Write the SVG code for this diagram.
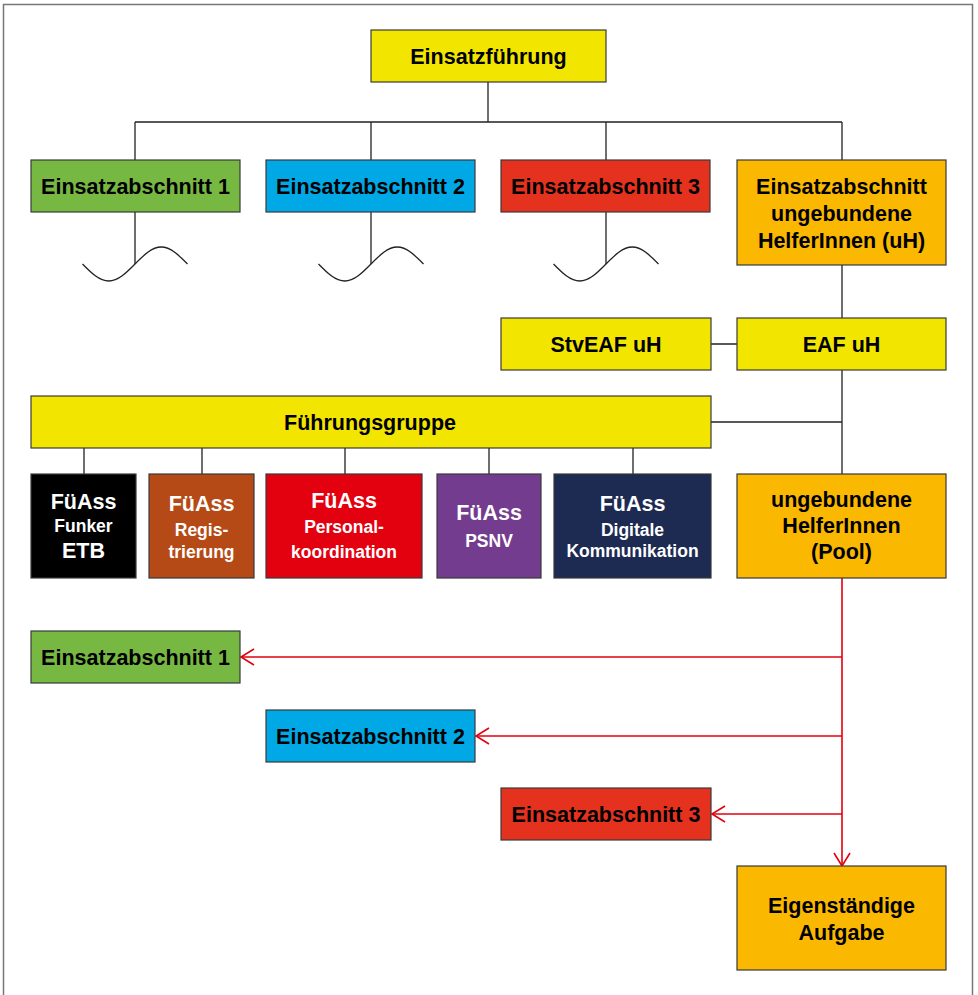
<svg xmlns="http://www.w3.org/2000/svg" width="978" height="995" viewBox="0 0 978 995">
<style>
.box{stroke:#3a3a3a;stroke-width:1.2}
.y{fill:#f2e600}.g{fill:#77b843}.c{fill:#00a8e6}.r{fill:#e4321f}.o{fill:#fab800}
.t{font-family:"Liberation Sans",Arial,sans-serif;font-weight:bold;font-size:21.5px;text-anchor:middle;fill:#000}
.w{fill:#fff}
.s{font-size:17.5px}
.b{font-size:21.5px}
.ln{stroke:#222;stroke-width:1.3;fill:none}
.rl{stroke:#e3000f;stroke-width:1.6;fill:none}
</style>
<defs>
<path id="wave" d="M-52.5,0 C-43.94,8.71 -35.7,17 -26.25,17 C-16.8,17 -8.56,8.71 0,0 C8.56,-8.71 16.8,-17 26.25,-17 C35.7,-17 43.94,-8.71 52.5,0" fill="none" stroke="#222" stroke-width="1.3"/>
<marker id="ah" markerWidth="16" markerHeight="18" refX="14" refY="9" orient="auto" markerUnits="userSpaceOnUse">
<path d="M1,1 L14,9 L1,17" fill="none" stroke="#e3000f" stroke-width="1.6"/>
</marker>
</defs>
<rect x="3.5" y="4.5" width="969" height="1000" fill="#fff" stroke="#777" stroke-width="1.5"/>

<g id="connectors">
<path class="ln" d="M488,82 V122 M135,122 H842 M135,122 V160 M371,122 V160 M606,122 V160 M842,122 V160"/>
<path class="ln" d="M135,212 V264 M371,212 V264 M606,212 V264"/>
<use href="#wave" x="135" y="264"/>
<use href="#wave" x="371" y="264"/>
<use href="#wave" x="606" y="264"/>
<path class="ln" d="M842,265 V318 M711,344 H737 M842,370 V474 M711,422 H842"/>
<path class="ln" d="M84,448 V474 M202,448 V474 M345,448 V474 M489,448 V474 M633,448 V474"/>
<path class="rl" d="M842,578 V866" marker-end="url(#ah)"/>
<path class="rl" d="M842,657 H241" marker-end="url(#ah)"/>
<path class="rl" d="M842,736 H476" marker-end="url(#ah)"/>
<path class="rl" d="M842,814 H712" marker-end="url(#ah)"/>
</g>

<g id="einsatzfuehrung"><rect class="box y" x="371" y="30" width="235" height="52"/><text class="t" x="488.5" y="63.5">Einsatzführung</text></g>
<g id="ea1"><rect class="box g" x="31" y="160" width="209" height="52"/><text class="t" x="135.5" y="193.5">Einsatzabschnitt 1</text></g>
<g id="ea2"><rect class="box c" x="266" y="160" width="209" height="52"/><text class="t" x="370.5" y="193.5">Einsatzabschnitt 2</text></g>
<g id="ea3"><rect class="box r" x="501" y="160" width="209" height="52"/><text class="t" x="605.5" y="193.5">Einsatzabschnitt 3</text></g>
<g id="ea-uh"><rect class="box o" x="737" y="160" width="209" height="105"/><text class="t" x="841.5" y="193.5">Einsatzabschnitt</text><text class="t" x="841.5" y="220.5">ungebundene</text><text class="t" x="841.5" y="247.5">HelferInnen (uH)</text></g>
<g id="stveaf"><rect class="box y" x="501" y="318" width="210" height="52"/><text class="t" x="606" y="351.5">StvEAF uH</text></g>
<g id="eaf"><rect class="box y" x="737" y="318" width="209" height="52"/><text class="t" x="841.5" y="351.5">EAF uH</text></g>
<g id="fuehrungsgruppe"><rect class="box y" x="31" y="396" width="680" height="52"/><text class="t" x="370" y="429.5">Führungsgruppe</text></g>
<g id="fueass-funker"><rect class="box" fill="#000" x="31" y="474" width="105" height="104"/><text class="t w b" x="83.5" y="508.5">FüAss</text><text class="t w s" x="83.5" y="531.5">Funker</text><text class="t w b" x="83.5" y="557.5">ETB</text></g>
<g id="fueass-reg"><rect class="box" fill="#b54a16" x="149" y="474" width="105" height="104"/><text class="t w b" x="201.5" y="510.5">FüAss</text><text class="t w s" x="201.5" y="535.5">Regis-</text><text class="t w s" x="201.5" y="557.5">trierung</text></g>
<g id="fueass-pers"><rect class="box" fill="#e3000f" x="266" y="474" width="156" height="104"/><text class="t w b" x="344" y="507.5">FüAss</text><text class="t w s" x="344" y="532.5">Personal-</text><text class="t w s" x="344" y="557.5">koordination</text></g>
<g id="fueass-psnv"><rect class="box" fill="#743c8f" x="437" y="474" width="104" height="104"/><text class="t w b" x="489" y="519.5">FüAss</text><text class="t w s" x="489" y="546.5">PSNV</text></g>
<g id="fueass-dig"><rect class="box" fill="#1d2a52" x="554" y="474" width="157" height="104"/><text class="t w b" x="632.5" y="510.5">FüAss</text><text class="t w s" x="632.5" y="535.5">Digitale</text><text class="t w s" x="632.5" y="556.5">Kommunikation</text></g>
<g id="pool"><rect class="box o" x="737" y="474" width="209" height="104"/><text class="t" x="841.5" y="506.5">ungebundene</text><text class="t" x="841.5" y="532.5">HelferInnen</text><text class="t" x="841.5" y="558.5">(Pool)</text></g>
<g id="ea1b"><rect class="box g" x="31" y="631" width="209" height="52"/><text class="t" x="135.5" y="664.5">Einsatzabschnitt 1</text></g>
<g id="ea2b"><rect class="box c" x="266" y="710" width="209" height="52"/><text class="t" x="370.5" y="743.5">Einsatzabschnitt 2</text></g>
<g id="ea3b"><rect class="box r" x="501" y="788" width="210" height="52"/><text class="t" x="606" y="821.5">Einsatzabschnitt 3</text></g>
<g id="eigen"><rect class="box o" x="737" y="866" width="209" height="104"/><text class="t" x="841.5" y="912.5">Eigenständige</text><text class="t" x="841.5" y="939.5">Aufgabe</text></g>
</svg>
